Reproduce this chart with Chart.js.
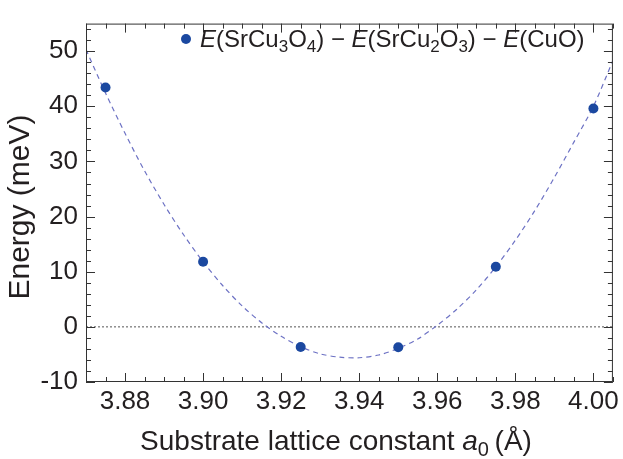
<!DOCTYPE html>
<html>
<head>
<meta charset="utf-8">
<script src="https://cdn.jsdelivr.net/npm/chart.js"></script>
<style>
  html, body { margin: 0; padding: 0; background: #fff; }
</style>
</head>
<body>
<canvas id="energyChart" width="623" height="459"></canvas>
<script>
// computed points: substrate lattice constant (Å) and energy (meV)
var latticeA = [3.875, 3.900, 3.925, 3.950, 3.975, 4.000];
var energyMeV = [43.4, 11.8, -3.65, -3.7, 10.9, 39.6];

// dashed fit curve
var fitA = [3.870, 3.875, 3.880, 3.885, 3.890, 3.895, 3.900, 3.905, 3.910, 3.915,
            3.920, 3.925, 3.930, 3.935, 3.940, 3.945, 3.950, 3.955, 3.960, 3.965,
            3.970, 3.975, 3.980, 3.985, 3.990, 3.995, 4.000, 4.005];
var fitE = [50.3, 42.4, 35.1, 28.3, 22.2, 16.7, 11.8, 7.5, 3.8, 0.75,
            -1.7, -3.6, -4.9, -5.5, -5.6, -5.1, -3.9, -2.2, 0.3, 3.2,
            6.7, 10.9, 15.7, 21.1, 27.1, 33.5, 40.0, 48.3];

var zeroLevel = 0;

var xMin = 3.870, xMax = 4.005;
var yMin = -10, yMax = 55;
var xTicks = [3.88, 3.90, 3.92, 3.94, 3.96, 3.98, 4.00];
var xTickLabels = ['3.88', '3.90', '3.92', '3.94', '3.96', '3.98', '4.00'];
var yTicks = [-10, 0, 10, 20, 30, 40, 50];
var yTickLabels = ['-10', '0', '10', '20', '30', '40', '50'];
var xMinorStep = 0.005;
var yMinorStep = 2;

var FONT = "'Liberation Sans', Arial, Helvetica, sans-serif";
var INK = '#231f20';
var DOT = '#1b48a0';

function toPoints(xs, ys) {
  return xs.map(function (x, i) { return { x: x, y: ys[i] }; });
}

// draws a run of text pieces, some italic, some subscript
function richText(ctx, x, y, size, parts, measureOnly) {
  var cx = x;
  parts.forEach(function (p) {
    var sz = p.sub ? Math.round(size * 0.7) : size;
    ctx.font = (p.it ? 'italic ' : '') + sz + 'px ' + FONT;
    if (!measureOnly) ctx.fillText(p.t, cx, y + (p.sub ? size * 0.22 : 0));
    cx += ctx.measureText(p.t).width;
  });
  return cx - x;
}

var legendParts = [
  { t: 'E', it: true }, { t: '(SrCu' }, { t: '3', sub: true }, { t: 'O' }, { t: '4', sub: true },
  { t: ') \u2212 ' },
  { t: 'E', it: true }, { t: '(SrCu' }, { t: '2', sub: true }, { t: 'O' }, { t: '3', sub: true },
  { t: ') \u2212 ' },
  { t: 'E', it: true }, { t: '(CuO)' }
];
var xTitleParts = [
  { t: 'Substrate lattice constant ' }, { t: 'a', it: true }, { t: '0', sub: true }, { t: '\u2009(\u00c5)' }
];
var yTitle = 'Energy (meV)';

var frameAndTicks = {
  id: 'frameAndTicks',
  afterDatasetsDraw: function (chart) {
    var ctx = chart.ctx, a = chart.chartArea;
    var xs = chart.scales.x, ys = chart.scales.y;
    ctx.save();
    ctx.strokeStyle = '#333';
    ctx.lineWidth = 1;
    ctx.strokeRect(a.left + 0.5, a.top + 0.5, a.right - a.left - 1, a.bottom - a.top - 1);

    ctx.beginPath();
    var i, v, p, len;
    for (i = 0; ; i++) {
      v = Math.round((xMin + i * xMinorStep) * 1000) / 1000;
      if (v > xMax + 1e-9) break;
      len = xTicks.some(function (t) { return Math.abs(t - v) < 1e-6; }) ? 9 : 5;
      p = Math.round(xs.getPixelForValue(v)) + 0.5;
      ctx.moveTo(p, a.bottom); ctx.lineTo(p, a.bottom - len);
      ctx.moveTo(p, a.top); ctx.lineTo(p, a.top + len);
    }
    for (v = yMin; v <= yMax; v += yMinorStep) {
      len = yTicks.indexOf(v) >= 0 ? 9 : 5;
      p = Math.round(ys.getPixelForValue(v)) + 0.5;
      ctx.moveTo(a.left, p); ctx.lineTo(a.left + len, p);
      ctx.moveTo(a.right, p); ctx.lineTo(a.right - len, p);
    }
    ctx.stroke();

    // legend
    ctx.fillStyle = DOT;
    ctx.beginPath();
    ctx.arc(186, 39, 5, 0, Math.PI * 2);
    ctx.fill();
    ctx.fillStyle = INK;
    ctx.textBaseline = 'alphabetic';
    ctx.textAlign = 'left';
    richText(ctx, 200, 47, 24, legendParts);

    // x title
    var w = richText(ctx, 0, 0, 28, xTitleParts, true);
    richText(ctx, 336 - w / 2, 450, 28, xTitleParts);

    // y title
    ctx.translate(29, 207);
    ctx.rotate(-Math.PI / 2);
    ctx.textAlign = 'center';
    ctx.font = '30px ' + FONT;
    ctx.fillText(yTitle, 0, 0);
    ctx.restore();
  }
};

var ctx = document.getElementById('energyChart').getContext('2d');
var myChart = new Chart(ctx, {
  type: 'scatter',
  data: {
    datasets: [
      {
        label: 'E(SrCu3O4) - E(SrCu2O3) - E(CuO)',
        data: toPoints(latticeA, energyMeV),
        pointRadius: 5,
        pointBackgroundColor: DOT,
        pointBorderColor: DOT,
        pointBorderWidth: 0
      },
      {
        label: 'fit',
        data: toPoints(fitA, fitE),
        showLine: true,
        pointRadius: 0,
        borderColor: '#6d72c4',
        borderWidth: 1.2,
        borderDash: [5, 4],
        tension: 0.3
      },
      {
        label: 'zero',
        data: toPoints([xMin, xMax], [zeroLevel, zeroLevel]),
        showLine: true,
        pointRadius: 0,
        borderColor: '#555',
        borderWidth: 1,
        borderDash: [2, 2]
      }
    ]
  },
  options: {
    responsive: false,
    animation: false,
    layout: { padding: { top: 8, right: 8, left: 0, bottom: 0 } },
    plugins: { legend: { display: false }, tooltip: { enabled: false } },
    scales: {
      x: {
        type: 'linear',
        min: xMin,
        max: xMax,
        afterBuildTicks: function (s) { s.ticks = xTicks.map(function (v) { return { value: v }; }); },
        afterFit: function (s) { s.height = 77; },
        grid: { display: false, drawTicks: false },
        border: { display: false },
        ticks: {
          padding: 4,
          color: INK,
          font: { family: FONT, size: 26 },
          maxRotation: 0,
          autoSkip: false,
          callback: function (v) { return xTickLabels[xTicks.indexOf(v)]; }
        }
      },
      y: {
        min: yMin,
        max: yMax,
        afterBuildTicks: function (s) { s.ticks = yTicks.map(function (v) { return { value: v }; }); },
        afterFit: function (s) { s.width = 86; },
        grid: { display: false, drawTicks: false },
        border: { display: false },
        ticks: {
          padding: 8,
          color: INK,
          font: { family: FONT, size: 26 },
          autoSkip: false,
          callback: function (v) { return yTickLabels[yTicks.indexOf(v)]; }
        }
      }
    }
  },
  plugins: [frameAndTicks]
});
</script>
</body>
</html>
